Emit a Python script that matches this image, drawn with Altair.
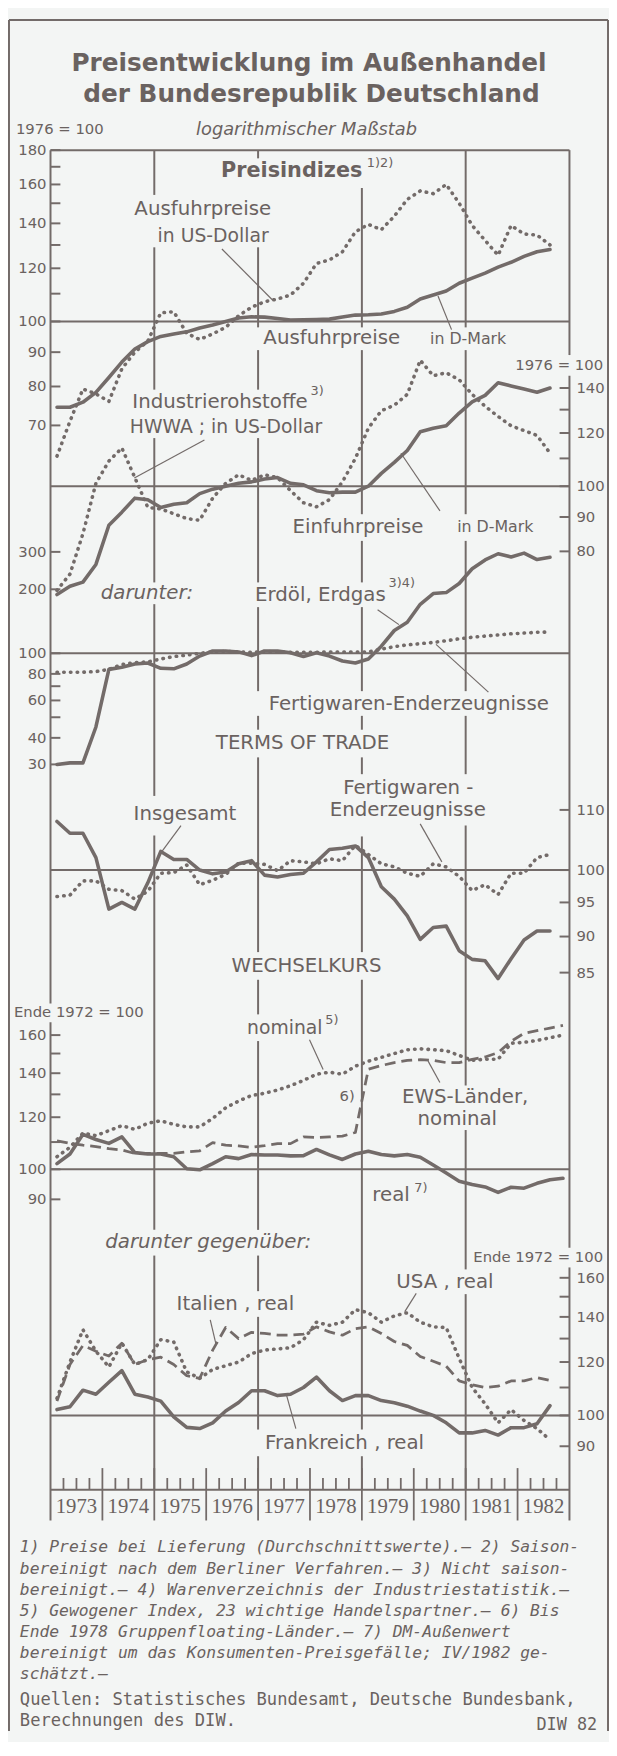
import math
import pandas as pd
import altair as alt

# ---------------- data (quarterly, 1973 Q1 ... 1982 Q4) ----------------
T = [1973.125 + 0.25 * i for i in range(40)]

# Preisindizes, 1976 = 100
ausfuhr_dm = [74.5, 74.5, 75.8, 78.4, 82.5, 87, 91, 93.3, 95, 95.8, 96.5, 97.8, 98.8, 100, 101.2, 101.6,
              101.5, 101, 100.5, 100.6, 100.7, 100.8, 101.5, 102.2, 102.3, 102.6, 103.5, 105, 108, 109.5,
              111, 114, 116, 118, 120.5, 122.5, 125, 127, 128]
ausfuhr_usd = [63, 71, 79.3, 78, 76, 85, 90, 93.5, 103, 103.4, 96, 94, 95.8, 98, 102, 105, 107, 108, 109.5,
               114, 122, 123.5, 127, 136, 139.5, 137, 143.5, 152, 156.5, 155, 160, 150, 139, 132, 125.5,
               139, 135, 134.5, 130]
industrierohstoffe = [70, 74, 85, 101, 109, 114, 103, 93, 92.5, 91, 89.5, 89, 96, 101, 104, 102, 104, 103,
                      98.5, 94.5, 93.2, 95.5, 101.5, 110, 122, 129.5, 132, 137, 154, 146, 147.5, 144, 137,
                      131.5, 127, 123, 121, 119, 112]
einfuhr_dm = [69, 71, 72, 76.5, 87.5, 91.5, 96, 95.5, 93, 94, 94.5, 97.5, 99, 100, 101, 101.5, 102.5, 103,
              101, 100.5, 98.5, 97.8, 98, 98, 100, 104.5, 108.5, 113, 120.5, 122, 123, 128.5, 133.5, 136.5,
              142.5, 141, 139.5, 138, 140]
erdoel = [30, 30.5, 30.5, 45, 84, 86, 89, 90, 85, 84.5, 89, 97, 102.5, 102.5, 101.5, 97.5, 102.5, 102.5,
          100.5, 96.5, 100.5, 97, 92, 90, 94, 108, 128, 140, 170, 191, 193, 213, 250, 275, 294, 284, 296,
          276, 283]
fertigwaren_einfuhr = [81.5, 81.5, 81.5, 82, 84, 88.5, 90.5, 91, 94, 96.5, 98, 100, 101.5, 102, 101.5, 101,
                       102, 101.5, 101, 101, 101, 101.5, 101.5, 101.5, 101.5, 104.5, 107.5, 109.5, 111,
                       112.5, 114.5, 117, 119, 120.5, 122, 123.5, 124.5, 125.5, 126]
# Terms of Trade
tot_insgesamt = [108, 106, 106, 102, 94, 95, 94, 98, 103, 101.7, 101.7, 100, 99.4, 99.7, 101, 101.5, 99.2,
                 98.9, 99.3, 99.5, 101.3, 103.3, 103.5, 103.9, 102, 97.4, 95.5, 93, 89.6, 91.3, 91.5, 88,
                 86.8, 86.6, 84.2, 86.9, 89.5, 90.8, 90.8]
tot_fertigwaren = [95.9, 96.1, 98.3, 98.3, 97, 96.8, 95.5, 96.7, 99.5, 99.6, 100.8, 97.7, 98.4, 99.3, 101.1,
                   101.1, 100.9, 99.9, 101.5, 101.3, 101, 101.8, 101.5, 104, 102.5, 101, 100.5, 99.5, 99,
                   101, 100.5, 99, 96.8, 97.7, 96.2, 99.5, 99.5, 102, 102.5]
# Wechselkurs, Ende 1972 = 100
wk_nominal = [104.5, 108, 113.5, 112.5, 114.5, 116.5, 115, 117.5, 118.5, 117, 116, 116, 119.5, 124, 127,
              129.5, 130.5, 132, 134, 136.5, 139.5, 140.5, 139.5, 143.5, 146, 148, 150, 152, 152.5, 152,
              151.5, 149, 146.5, 147, 147, 155.5, 156, 157, 158.5, 160]
wk_ews = [110.5, 109.5, 108.8, 108.3, 107.5, 107, 105.7, 105.7, 105.7, 105.7, 106.3, 106.7, 109.8, 108.8,
          108.5, 108, 108.6, 109.4, 109.4, 112, 111.8, 112, 112.3, 113.8, 142, 143.8, 145.3, 146.4, 146.8,
          146.4, 145.3, 145.3, 147, 148.2, 150.5, 156.5, 161, 162.5, 164, 165.5]
wk_real = [102, 105.5, 113, 111, 109.5, 112, 106, 105.5, 105.5, 104.5, 100.2, 99.8, 102, 104.5, 103.8,
           105.3, 105.1, 105.1, 104.8, 104.9, 107.2, 105.2, 103.5, 105.5, 106.5, 105.3, 104.8, 105.3, 104.3,
           101.5, 98.7, 95.9, 94.8, 94, 92.2, 93.9, 93.6, 95.2, 96.4, 96.9]
italien_real = [105, 119, 127, 124.5, 122.5, 128, 119, 121, 122, 119, 114.5, 113.5, 125, 135, 130, 132.8,
                132.3, 131.6, 131.6, 132, 135.3, 133, 131.5, 134.5, 135.3, 132.3, 128.7, 127, 122.3, 120.3,
                118.3, 112.5, 111, 110, 110.5, 112.5, 112.5, 113.8, 112.7]
usa_real = [106, 120, 134, 124.5, 118, 128, 119, 121, 129.5, 128.5, 116, 113.5, 117, 118.5, 120, 123.5, 125,
            125.5, 126, 129.5, 137.5, 136, 137.5, 143.5, 142, 137.5, 140.5, 142, 137.5, 135.3, 135, 121.5,
            110, 104, 97.5, 102, 98.3, 95.6, 92]
frankreich_real = [102, 103, 109, 107.5, 112, 116.5, 107.5, 106.5, 105, 99.5, 96, 95.6, 97.5, 101.5, 104.5,
                   108.8, 108.8, 107, 107.5, 110, 114, 108.8, 105.2, 107, 107, 105.2, 104.4, 103.2, 101.5,
                   100, 97.5, 94.2, 94.2, 95, 93.5, 95.9, 95.9, 97.2, 103.4]

# axis ticks and labels
ticks_p1 = [180, 170, 160, 150, 140, 130, 120, 110, 100, 90, 80, 70]
labels_p1 = ["180", "", "160", "", "140", "", "120", "", "100", "90", "80", "70"]
ticks_p2 = [140, 130, 120, 110, 100, 90, 80]
labels_p2 = ["140", "", "120", "", "100", "90", "80"]
ticks_p3 = [300, 200, 100, 80, 70, 60, 50, 40, 30]
labels_p3 = ["300", "200", "100", "80", "", "60", "", "40", "30"]
ticks_p4 = [110, 100, 95, 90, 85]
labels_p4 = ["110", "100", "95", "90", "85"]
ticks_p5 = [160, 150, 140, 130, 120, 110, 100, 90]
labels_p5 = ["160", "", "140", "", "120", "", "100", "90"]
ticks_p6 = [160, 150, 140, 130, 120, 110, 100, 90]
labels_p6 = ["160", "", "140", "", "120", "", "100", "90"]
years = list(range(1973, 1983))

# ---------------- styles / layout ----------------
OFF = 8.0
INK = "#736b69"
TXT = "#6a6260"
BG = "#f3f5f4"
FONT = "DejaVu Sans"
MONO = "DejaVu Sans Mono"
NARROW = "Liberation Sans Narrow"
XL, XR = 51, 576          # frame left / right (page px)
YTOP, YAX, YBOT = 141.7, 1497, 1528


def P(v):
    return v - OFF


XS = alt.Scale(domain=[1973, 1983], range=[P(XL), P(XR)], nice=False, zero=False)


def yscale(y100, ppd, lo, hi):
    f = lambda v: P(y100 - (math.log10(v) - 2.0) * ppd)
    return alt.Scale(type="log", domain=[lo, hi], range=[f(lo), f(hi)], nice=False)


SC1 = yscale(315.0, 679, 55, 190)
SC2 = yscale(481.7, 680, 60, 165)
SC3 = yscale(650.7, 215, 25, 330)
SC4 = yscale(870.0, 1470, 80, 115)
SC5 = yscale(1172.7, 665, 85, 175)
SC6 = yscale(1421.7, 682, 85, 170)


def series(values, sc, style):
    df = pd.DataFrame({"t": T[:len(values)], "v": values})
    kw = dict(color=INK, strokeJoin="round")
    if style == "solid":
        kw.update(strokeWidth=3.6, strokeCap="round")
    elif style == "dot":
        kw.update(strokeWidth=3.6, strokeDash=[0.5, 6.3], strokeCap="round")
    else:
        kw.update(strokeWidth=2.8, strokeDash=[11, 6], strokeCap="butt")
    return alt.Chart(df).mark_line(**kw).encode(
        x=alt.X("t:Q", scale=XS, axis=None),
        y=alt.Y("v:Q", scale=sc, axis=None),
    )


def axis_layers(ticks, labels, sc, side):
    df = pd.DataFrame({"v": ticks, "lab": labels})
    if side == "left":
        x1, x2, xl, align = XL, XL + 10, 47, "right"
    else:
        x1, x2, xl, align = XR - 10, XR, 583, "left"
    rule = alt.Chart(df).mark_rule(color=INK, strokeWidth=2).encode(
        x=alt.value(P(x1)), x2=alt.value(P(x2)), y=alt.Y("v:Q", scale=sc, axis=None))
    text = alt.Chart(df).transform_filter("datum.lab != ''").mark_text(
        align=align, baseline="middle", font=FONT, fontSize=15, color=TXT).encode(
        x=alt.value(P(xl)), y=alt.Y("v:Q", scale=sc, axis=None), text="lab:N")
    return [rule, text]


def ref100(sc):
    return alt.Chart(pd.DataFrame({"v": [100]})).mark_rule(color=INK, strokeWidth=2).encode(
        x=alt.value(P(XL)), x2=alt.value(P(XR)), y=alt.Y("v:Q", scale=sc, axis=None))


def panel(sc, ticks, labels, side, lines):
    layers = [ref100(sc)] + axis_layers(ticks, labels, sc, side)
    layers += [series(v, sc, s) for v, s in lines]
    return alt.layer(*layers)


# ---------------- decorations ----------------
grid_rows = []
for yr, segs in {
    1975: [(141.7, 187), (240, 384), (433, 579), (601, 795), (835, 1234), (1260, 1497)],
    1977: [(141.7, 150), (240, 321), (344, 384), (433, 579), (604, 689), (714, 728), (756, 953),
           (981, 1016), (1043, 1234), (1260, 1296), (1322, 1436), (1463, 1497)],
    1979: [(180, 321), (344, 510), (537, 579), (604, 689), (714, 728), (756, 773), (836, 953),
           (981, 1436), (1463, 1497)],
    1981: [(141.7, 321), (344, 510), (537, 689), (714, 773), (825, 1088), (1133, 1274), (1299, 1497)],
}.items():
    for a, b in segs:
        grid_rows.append({"t": yr, "y1": P(a), "y2": P(b)})
grid = alt.Chart(pd.DataFrame(grid_rows)).mark_rule(color=INK, strokeWidth=2).encode(
    x=alt.X("t:Q", scale=XS, axis=None), y=alt.Y("y1:Q", scale=None, axis=None), y2="y2:Q")

tick_rows = []
for yr in years:
    for q in (0.25, 0.5, 0.75):
        tick_rows.append({"t": yr + q, "y1": P(1485), "y2": P(YAX)})
    if yr > 1973:
        tick_rows.append({"t": yr, "y1": P(1475), "y2": P(YAX)})
        tick_rows.append({"t": yr, "y1": P(YAX), "y2": P(YBOT)})
xticks = alt.Chart(pd.DataFrame(tick_rows)).mark_rule(color=INK, strokeWidth=1.8).encode(
    x=alt.X("t:Q", scale=XS, axis=None), y=alt.Y("y1:Q", scale=None, axis=None), y2="y2:Q")

year_df = pd.DataFrame({"t": [y + 0.5 for y in years], "lab": [str(y) for y in years]})
year_labels = alt.Chart(year_df).mark_text(
    font=NARROW, fontSize=21, color=TXT, baseline="middle", align="center").encode(
    x=alt.X("t:Q", scale=XS, axis=None), y=alt.value(P(1514)), text="lab:N")

frame_segs = [
    (XL, YTOP, XR, YTOP), (XL, YAX, XR, YAX),
    (XL, YTOP, XL, 1005), (XL, 1024, XL, YBOT),
    (XR, YTOP, XR, 349), (XR, 370, XR, 1252), (XR, 1272, XR, YBOT),
]
border_segs = [(9, 10, 615, 10), (9, 10, 9, 1741), (615, 10, 615, 1741)]
pointer_segs = [
    (224.4, 241.7, 275.6, 293.3), (443, 289.3, 456.7, 323.3), (206.7, 435, 135.8, 473.3),
    (405.5, 448.3, 445, 506.7), (381.9, 606.7, 403.5, 621.7), (441, 641.7, 494, 690),
    (425, 823.3, 446.9, 861.7), (183, 825, 163.4, 851.7), (313, 1041.7, 326.8, 1071.7),
    (444.9, 1085, 433, 1063.3), (421, 1298.3, 409.4, 1316.7), (212.6, 1325, 218.5, 1350),
    (289.4, 1400, 299.2, 1435),
]


def segs(rows, width):
    df = pd.DataFrame([{"x1": P(a), "y1": P(b), "x2": P(c), "y2": P(d)} for a, b, c, d in rows])
    return alt.Chart(df).mark_rule(color=INK, strokeWidth=width).encode(
        x=alt.X("x1:Q", scale=None, axis=None), y=alt.Y("y1:Q", scale=None, axis=None),
        x2="x2:Q", y2="y2:Q")


def texts(rows, align="center", style="normal", weight="normal", font=FONT):
    df = pd.DataFrame([{"text": s, "x": P(x), "y": P(y), "size": z} for s, x, y, z in rows])
    return alt.Chart(df).mark_text(
        align=align, baseline="middle", color=TXT, font=font, fontStyle=style, fontWeight=weight).encode(
        x=alt.X("x:Q", scale=None, axis=None), y=alt.Y("y:Q", scale=None, axis=None),
        text="text:N", size=alt.Size("size:Q", scale=None, legend=None))


title_rows = [
    ("Preisentwicklung im Außenhandel", 312.5, 54, 25),
    ("der Bundesrepublik Deutschland", 315, 85, 25),
    ("Preisindizes", 295, 163.3, 21),
]
italic_center_rows = [
    ("logarithmischer Maßstab", 310, 121.7, 18),
    ("darunter:", 148.6, 590, 20),
    ("darunter gegenüber:", 210.6, 1246.7, 20),
]
label_rows = [
    ("Ausfuhrpreise", 205, 201.7, 20), ("in US-Dollar", 215.5, 229, 19),
    ("Ausfuhrpreise", 335.5, 332.3, 20), ("in D-Mark", 473.5, 333, 16),
    ("Industrierohstoffe", 222.5, 396.7, 20), ("HWWA ; in US-Dollar", 228.5, 421.7, 19),
    ("Einfuhrpreise", 362, 523.3, 20), ("in D-Mark", 501, 523.3, 16),
    ("Erdöl, Erdgas", 324, 591.7, 20), ("Fertigwaren-Enderzeugnisse", 413.4, 701.7, 20),
    ("TERMS OF TRADE", 306, 741.7, 20), ("Fertigwaren -", 413, 786.7, 20),
    ("Enderzeugnisse", 412.4, 809.3, 20), ("Insgesamt", 187, 813.3, 20),
    ("WECHSELKURS", 310, 966.7, 20), ("nominal", 288, 1030, 19), ("6)", 351, 1098.3, 15),
    ("EWS-Länder,", 470.5, 1100, 20), ("nominal", 462.5, 1121.7, 20), ("real", 395.5, 1199.3, 20),
    ("USA , real", 450, 1286.7, 20), ("Italien , real", 238, 1309, 20),
    ("Frankreich , real", 348.5, 1450, 20),
]
left_rows = [
    ("1976 = 100", 16, 120.7, 15), ("Ende 1972 = 100", 14, 1014, 15),
    ("1)2)", 371, 155, 13), ("3)", 314, 385, 13), ("3)4)", 393, 580, 13),
    ("5)", 329, 1022, 13), ("7)", 419, 1192, 13),
]
right_rows = [
    ("1976 = 100", 610, 359, 15), ("Ende 1972 = 100", 610, 1261.7, 15),
]
foot_rows = [
    ("1) Preise bei Lieferung (Durchschnittswerte).— 2) Saison-", 20, 1555, 16.5),
    ("bereinigt nach dem Berliner Verfahren.— 3) Nicht saison-", 20, 1576.7, 16.5),
    ("bereinigt.— 4) Warenverzeichnis der Industriestatistik.—", 20, 1598.3, 16.5),
    ("5) Gewogener Index, 23 wichtige Handelspartner.— 6) Bis", 20, 1619.3, 16.5),
    ("Ende 1978 Gruppenfloating-Länder.— 7) DM-Außenwert", 20, 1640.7, 16.5),
    ("bereinigt um das Konsumenten-Preisgefälle; IV/1982 ge-", 20, 1661.7, 16.5),
    ("schätzt.—", 20, 1683.3, 16.5),
]
source_rows = [
    ("Quellen: Statistisches Bundesamt, Deutsche Bundesbank,", 20, 1710, 17.3),
    ("Berechnungen des DIW.", 20, 1731, 17.3),
]
diw_rows = [("DIW 82", 604, 1735, 17)]

# ---------------- panels ----------------
p1 = panel(SC1, ticks_p1, labels_p1, "left", [(ausfuhr_usd, "dot"), (ausfuhr_dm, "solid")])
p2 = panel(SC2, ticks_p2, labels_p2, "right", [(industrierohstoffe, "dot"), (einfuhr_dm, "solid")])
p3 = panel(SC3, ticks_p3, labels_p3, "left", [(fertigwaren_einfuhr, "dot"), (erdoel, "solid")])
p4 = panel(SC4, ticks_p4, labels_p4, "right", [(tot_fertigwaren, "dot"), (tot_insgesamt, "solid")])
p5 = panel(SC5, ticks_p5, labels_p5, "left",
           [(wk_nominal, "dot"), (wk_ews, "dash"), (wk_real, "solid")])
p6 = panel(SC6, ticks_p6, labels_p6, "right",
           [(usa_real, "dot"), (italien_real, "dash"), (frankreich_real, "solid")])

chart = alt.layer(
    grid, xticks, segs(frame_segs, 2), segs(border_segs, 2), segs(pointer_segs, 1.2),
    p1, p2, p3, p4, p5, p6,
    year_labels,
    texts(title_rows, weight="bold"),
    texts(italic_center_rows, style="italic"),
    texts(label_rows),
    texts(left_rows, align="left"),
    texts(right_rows, align="right"),
    texts(foot_rows, align="left", style="italic", font=MONO),
    texts(source_rows, align="left", font=MONO),
    texts(diw_rows, align="right", font=MONO),
).resolve_scale(y="independent").properties(
    width=608, height=1734, padding=0,
    autosize=alt.AutoSizeParams(type="none"), background=BG,
).configure_view(strokeWidth=0)

chart.save("out.html", embed_options={"renderer": "svg", "actions": False})
